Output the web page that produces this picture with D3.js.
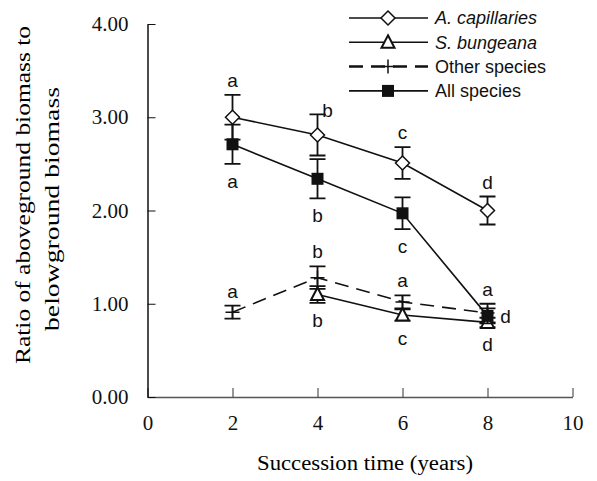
<!DOCTYPE html>
<html>
<head>
<meta charset="utf-8">
<script src="https://cdn.jsdelivr.net/npm/d3@7"></script>
<style>
  body { margin: 0; background: #fff; }
  svg { display: block; }
</style>
</head>
<body>
<div id="chart"></div>
<script>
// Succession time (years)
const years = [2, 4, 6, 8];

// A. capillaries
const capMean = [3.00, 2.81, 2.51, 2.00];
const capSE = [0.24, 0.22, 0.17, 0.15];
const capLetters = ["a", "b", "c", "d"];

// S. bungeana (no value at year 2)
const bungYears = [4, 6, 8];
const bungMean = [1.10, 0.88, 0.80];
const bungSE = [0.09, 0.06, 0.05];
const bungLetters = ["b", "c", "d"];

// Other species
const otherMean = [0.91, 1.28, 1.02, 0.90];
const otherSE = [0.07, 0.12, 0.07, 0.10];
const otherLetters = ["a", "b", "a", "a"];

// All species
const allMean = [2.71, 2.34, 1.97, 0.87];
const allSE = [0.21, 0.21, 0.17, 0.08];
const allLetters = ["a", "b", "c", "d"];

const yTicks = [0, 1, 2, 3, 4];
const xTicks = [0, 2, 4, 6, 8, 10];

const W = 597, H = 481;
const svg = d3.select("#chart").append("svg")
    .attr("width", W)
    .attr("height", H);

const x = d3.scaleLinear().domain([0, 10]).range([147.5, 572.5]);
const y = d3.scaleLinear().domain([0, 4]).range([397, 24]);

const serif = "'Liberation Serif', 'Times New Roman', serif";
const sans = "'Liberation Sans', Arial, sans-serif";

// Axes
const xAxis = svg.append("g")
    .attr("transform", `translate(0,${y(0)})`)
    .call(d3.axisBottom(x).tickValues(xTicks).tickSizeInner(-9).tickSizeOuter(0).tickPadding(18));
xAxis.select(".domain").attr("stroke", "#555").attr("stroke-width", 1.5);
xAxis.selectAll(".tick line").attr("stroke", "#333");
xAxis.selectAll("text").attr("font-family", serif).attr("font-size", 21).attr("fill", "#111");

const yAxis = svg.append("g")
    .attr("transform", `translate(${x(0)},0)`)
    .call(d3.axisLeft(y).tickValues(yTicks).tickSizeInner(-8).tickSizeOuter(0).tickPadding(19).tickFormat(d3.format(".2f")));
yAxis.select(".domain").attr("stroke", "#111").attr("stroke-width", 1.5);
yAxis.selectAll(".tick line").attr("stroke", "#111");
yAxis.selectAll("text").attr("font-family", serif).attr("font-size", 21).attr("fill", "#111");

// Axis titles
svg.append("text")
    .attr("x", 365).attr("y", 470)
    .attr("text-anchor", "middle")
    .attr("font-family", serif).attr("font-size", 20)
    .attr("textLength", 216).attr("lengthAdjust", "spacingAndGlyphs")
    .text("Succession time (years)");

svg.append("text")
    .attr("transform", "translate(30,195) rotate(-90)")
    .attr("text-anchor", "middle")
    .attr("font-family", serif).attr("font-size", 21)
    .attr("textLength", 338).attr("lengthAdjust", "spacingAndGlyphs")
    .text("Ratio of aboveground biomass to");
svg.append("text")
    .attr("transform", "translate(59,209) rotate(-90)")
    .attr("text-anchor", "middle")
    .attr("font-family", serif).attr("font-size", 21)
    .attr("textLength", 244).attr("lengthAdjust", "spacingAndGlyphs")
    .text("belowground biomass");

// Marker shapes
function drawMarker(g, kind, cx, cy) {
    if (kind === "diamond") {
        g.append("path")
            .attr("d", "M0,-7L7,0L0,7L-7,0Z")
            .attr("transform", `translate(${cx},${cy})`)
            .attr("fill", "#fff").attr("stroke", "#111").attr("stroke-width", 1.5);
    } else if (kind === "triangle") {
        g.append("path")
            .attr("d", "M0,-7L6.5,5.5L-6.5,5.5Z")
            .attr("transform", `translate(${cx},${cy})`)
            .attr("fill", "#fff").attr("stroke", "#111").attr("stroke-width", 2);
    } else if (kind === "square") {
        g.append("rect")
            .attr("x", cx - 6).attr("y", cy - 6)
            .attr("width", 12).attr("height", 12)
            .attr("fill", "#111");
    } else if (kind === "plus") {
        g.append("path")
            .attr("d", `M${cx - 7},${cy}H${cx + 7}M${cx},${cy - 7}V${cy + 7}`)
            .attr("stroke", "#111").attr("stroke-width", 1.5);
    }
}

const series = [
    { name: "Other species", xs: years, mean: otherMean, se: otherSE, letters: otherLetters, place: ["above", "above", "above", "above"], marker: "plus", dash: "14,8" },
    { name: "S. bungeana", xs: bungYears, mean: bungMean, se: bungSE, letters: bungLetters, place: ["below", "below", "below"], marker: "triangle", dash: null },
    { name: "All species", xs: years, mean: allMean, se: allSE, letters: allLetters, place: ["below", "below", "below", "right"], marker: "square", dash: null },
    { name: "A. capillaries", xs: years, mean: capMean, se: capSE, letters: capLetters, place: ["above", "aboveRight", "above", "above"], marker: "diamond", dash: null }
];

const line = d3.line().x(d => x(d[0])).y(d => y(d[1]));
const plot = svg.append("g");

series.forEach(s => {
    const pts = s.xs.map((v, i) => [v, s.mean[i], s.se[i]]);
    // connecting line
    plot.append("path")
        .datum(pts)
        .attr("d", line)
        .attr("fill", "none")
        .attr("stroke", "#111")
        .attr("stroke-width", 1.6)
        .attr("stroke-dasharray", s.dash);
    // error bars
    pts.forEach(p => {
        const cx = x(p[0]);
        const top = y(p[1] + p[2]);
        const bot = y(p[1] - p[2]);
        plot.append("path")
            .attr("d", `M${cx},${top}V${bot}M${cx - 8},${top}H${cx + 8}M${cx - 8},${bot}H${cx + 8}`)
            .attr("fill", "none")
            .attr("stroke", "#111")
            .attr("stroke-width", 1.8);
    });
    // markers
    pts.forEach(p => drawMarker(plot, s.marker, x(p[0]), y(p[1])));
    // significance letters
    pts.forEach((p, i) => {
        const cx = x(p[0]);
        let tx = cx, ty;
        const mode = s.place[i];
        if (mode === "above") ty = y(p[1] + p[2]) - 8;
        else if (mode === "aboveRight") { tx = cx + 10; ty = y(p[1] + p[2]) + 3; }
        else if (mode === "below") ty = y(p[1] - p[2]) + 24;
        else { tx = cx + 18; ty = y(p[1]) + 7; }
        plot.append("text")
            .attr("x", tx).attr("y", ty)
            .attr("text-anchor", "middle")
            .attr("font-family", sans).attr("font-size", 19)
            .attr("fill", "#111")
            .text(s.letters[i]);
    });
});

// Legend
const legendItems = [
    { label: "A. capillaries", marker: "diamond", dash: null, italic: true },
    { label: "S. bungeana", marker: "triangle", dash: null, italic: true },
    { label: "Other species", marker: "plus", dash: "14,8", italic: false },
    { label: "All species", marker: "square", dash: null, italic: false }
];
const legend = svg.append("g");
legendItems.forEach((d, i) => {
    const ly = 18 + i * 24.3;
    legend.append("line")
        .attr("x1", 349).attr("x2", 428)
        .attr("y1", ly).attr("y2", ly)
        .attr("stroke", "#111").attr("stroke-width", d.dash ? 2.5 : 1.6)
        .attr("stroke-dasharray", d.dash);
    drawMarker(legend, d.marker, 388, ly);
    legend.append("text")
        .attr("x", 435).attr("y", ly)
        .attr("dy", "0.35em")
        .attr("font-family", sans).attr("font-size", 18)
        .attr("font-style", d.italic ? "italic" : "normal")
        .attr("fill", "#111")
        .text(d.label);
});
</script>
</body>
</html>
